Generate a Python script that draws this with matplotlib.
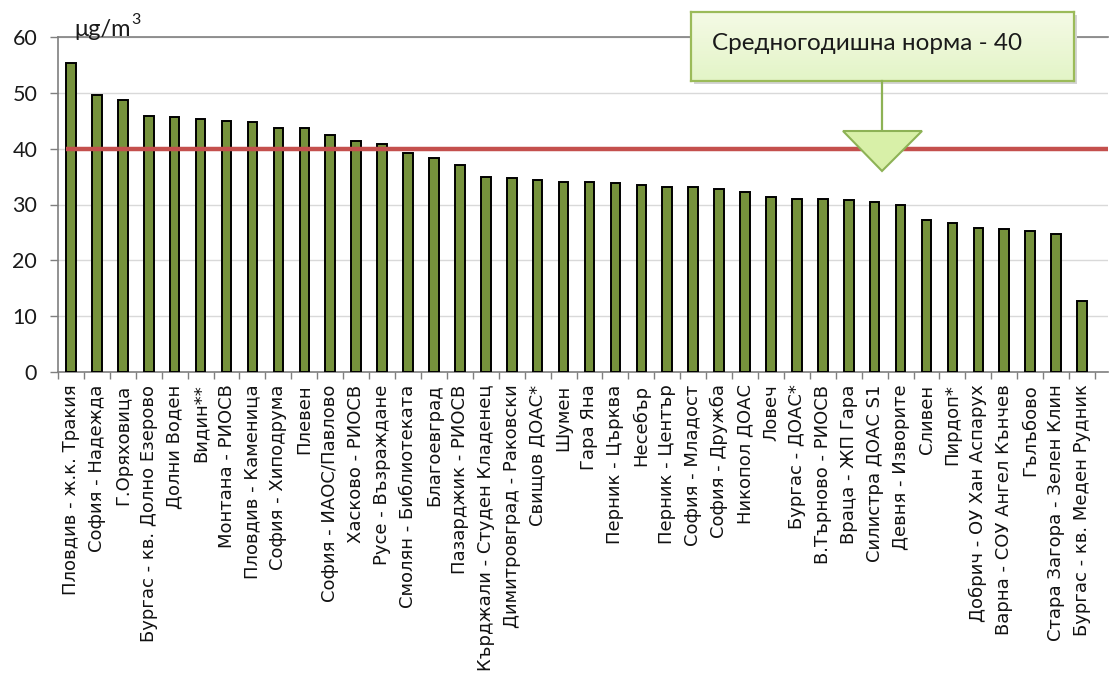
import matplotlib
matplotlib.use("Agg")
import matplotlib.pyplot as plt
from matplotlib.patches import Rectangle, Polygon
from matplotlib.lines import Line2D
import numpy as np

stations = [
    "Пловдив - ж.к. Тракия", "София - Надежда", "Г.Оряховица",
    "Бургас - кв. Долно Езерово", "Долни Воден", "Видин**",
    "Монтана - РИОСВ", "Пловдив - Каменица", "София - Хиподрума",
    "Плевен", "София - ИАОС/Павлово", "Хасково - РИОСВ",
    "Русе - Възраждане", "Смолян - Библиотеката", "Благоевград",
    "Пазарджик - РИОСВ", "Кърджали - Студен Кладенец",
    "Димитровград - Раковски", "Свищов ДОАС*", "Шумен", "Гара Яна",
    "Перник - Църква", "Несебър", "Перник - Център", "София - Младост",
    "София - Дружба", "Никопол ДОАС", "Ловеч", "Бургас - ДОАС*",
    "В.Търново - РИОСВ", "Враца - ЖП Гара", "Силистра ДОАС S1",
    "Девня - Изворите", "Сливен", "Пирдоп*", "Добрич - ОУ Хан Аспарух",
    "Варна - СОУ Ангел Кънчев", "Гълъбово", "Стара Загора - Зелен Клин",
    "Бургас - кв. Меден Рудник",
]
values = [
    55.3, 49.6, 48.7, 45.9, 45.6, 45.3, 45.0, 44.7, 43.7, 43.7,
    42.5, 41.3, 40.8, 39.3, 38.3, 37.1, 34.9, 34.7, 34.4, 34.1,
    34.1, 33.8, 33.5, 33.1, 33.1, 32.8, 32.3, 31.3, 31.0, 30.9,
    30.8, 30.4, 30.0, 27.2, 26.6, 25.8, 25.7, 25.3, 24.7, 12.7,
]
norm_value = 40
norm_label = "Средногодишна норма - 40"
unit_base = "μg/m"
unit_sup = "3"
y_ticks = [0, 10, 20, 30, 40, 50, 60]

plt.rcParams['font.family'] = ['Lato', 'DejaVu Sans']

W, H = 1110, 680
fig = plt.figure(figsize=(W / 100, H / 100), dpi=100)
fig.patch.set_facecolor("white")


def fx(x):
    return x / W


def fy(y):
    return 1 - y / H


ax = fig.add_axes([fx(58), fy(372), fx(1108) - fx(58), fy(37) - fy(372)])
n = len(stations)
xs = list(range(n))
ax.bar(xs, values, width=0.37, color="#76923C", edgecolor="black",
       linewidth=1.4, zorder=3)
ax.plot([-0.2, n + 0.5], [norm_value, norm_value], color="#C4504D",
        linewidth=3.2, zorder=4, solid_capstyle="butt")

ax.set_xlim(-0.5, n)
ax.set_ylim(0, 60)
ax.set_yticks(y_ticks)
ax.set_yticklabels([str(t) for t in y_ticks], fontsize=15.5, color="#1a1a1a")
ax.yaxis.grid(True, color="#D9D9D9", linewidth=1.0, zorder=0)
ax.set_axisbelow(True)

ax.set_xticks(xs)
ax.set_xticklabels(stations, rotation=90, fontsize=13.0, color="#111111",
                   family=["DejaVu Sans"])
ax.set_xticks([i - 0.5 for i in range(n + 1)], minor=True)
ax.tick_params(axis="x", which="major", length=0, pad=9)
ax.tick_params(axis="x", which="minor", length=5, color="#7F7F7F", width=1)
ax.tick_params(axis="y", length=6, color="#7F7F7F", width=1, pad=9)

for s in ["left", "bottom", "top"]:
    ax.spines[s].set_color("#7F7F7F")
    ax.spines[s].set_linewidth(1.2)
ax.spines["right"].set_visible(False)

t_unit = fig.text(fx(74), fy(36), unit_base, fontsize=17, color="#1a1a1a",
                  va="baseline", ha="left")
fig.canvas.draw()
bb = t_unit.get_window_extent()
fig.text((bb.x1 + 1) / W, fy(24), unit_sup, fontsize=11.5, color="#1a1a1a",
         va="baseline", ha="left")

# callout
box_x0, box_x1, box_y0, box_y1 = 691, 1074, 12, 81
shadow = Rectangle((fx(box_x0 + 3), fy(box_y1 + 3)),
                   fx(box_x1) - fx(box_x0), fy(box_y0) - fy(box_y1),
                   transform=fig.transFigure, facecolor="#D4D4D4",
                   edgecolor="none", zorder=5)
fig.patches.append(shadow)
grad = np.linspace(0, 1, 64).reshape(-1, 1)
top_c = np.array([0.96, 0.98, 0.90])
bot_c = np.array([0.89, 0.96, 0.78])
img = top_c * (1 - grad[..., None]) + bot_c * grad[..., None]
img = np.repeat(img, 2, axis=1)
gax = fig.add_axes([fx(box_x0), fy(box_y1), fx(box_x1) - fx(box_x0),
                    fy(box_y0) - fy(box_y1)], zorder=6)
gax.imshow(img, aspect="auto", extent=[0, 1, 0, 1], origin="upper")
gax.set_xticks([])
gax.set_yticks([])
for s in gax.spines.values():
    s.set_color("#9BBB59")
    s.set_linewidth(1.6)
gax.text(0.055, 0.55, norm_label, fontsize=17.5, color="#1a1a1a",
         va="center", ha="left", transform=gax.transAxes)

fig.lines.append(Line2D([fx(882), fx(882)], [fy(81), fy(131)],
                        transform=fig.transFigure, color="#8DB255",
                        linewidth=1.6, zorder=6))
tri = Polygon([(fx(843), fy(131)), (fx(922), fy(131)), (fx(882), fy(171))],
              closed=True, transform=fig.transFigure, facecolor="#D8F0A8",
              edgecolor="#8DB255", linewidth=1.5, zorder=6)
fig.patches.append(tri)

fig.savefig("out.png", dpi=100, facecolor="white")
